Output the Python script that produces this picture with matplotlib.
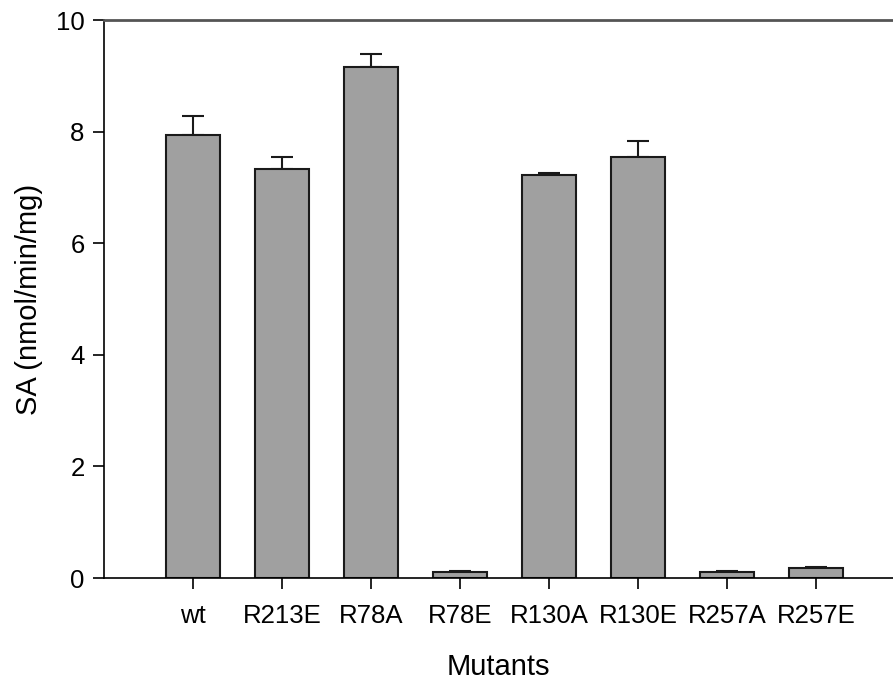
import matplotlib.pyplot as plt
import numpy as np

plt.rcParams['font.family'] = ['Liberation Sans', 'DejaVu Sans']

mutants = ['wt', 'R213E', 'R78A', 'R78E', 'R130A', 'R130E', 'R257A', 'R257E']
sa = [7.94, 7.33, 9.16, 0.11, 7.22, 7.54, 0.11, 0.18]
err = [0.34, 0.21, 0.23, 0.01, 0.03, 0.29, 0.01, 0.01]

fig = plt.figure(figsize=(8.93, 6.81), dpi=100)
ax = fig.add_axes([104/893, 103/681, 789/893, 558/681])

x = np.arange(len(mutants))
ax.bar(x, sa, width=0.6, color='#a0a0a0', edgecolor='#1a1a1a', linewidth=1.5, zorder=2)
ax.errorbar(x, sa, yerr=[np.zeros(len(err)), err], fmt='none', ecolor='#1a1a1a',
            elinewidth=1.5, capsize=8, capthick=1.5, zorder=1)

ax.set_xlim(-1, 7.865)
ax.set_ylim(0, 10)
ax.set_yticks([0, 2, 4, 6, 8, 10])
ax.set_xticks(x)
ax.set_xticklabels(mutants)
ax.tick_params(axis='both', direction='out', length=8, width=1.2, labelsize=18.5, pad=6)
ax.tick_params(axis='x', pad=11)

ax.spines['right'].set_visible(False)
ax.spines['top'].set_color('#555555')
ax.spines['top'].set_linewidth(2)
ax.spines['left'].set_linewidth(1.2)
ax.spines['bottom'].set_linewidth(1.2)

ax.set_ylabel('SA (nmol/min/mg)', fontsize=21, labelpad=9)
ax.set_xlabel('Mutants', fontsize=21, labelpad=18)

plt.savefig('out.png', dpi=100)
